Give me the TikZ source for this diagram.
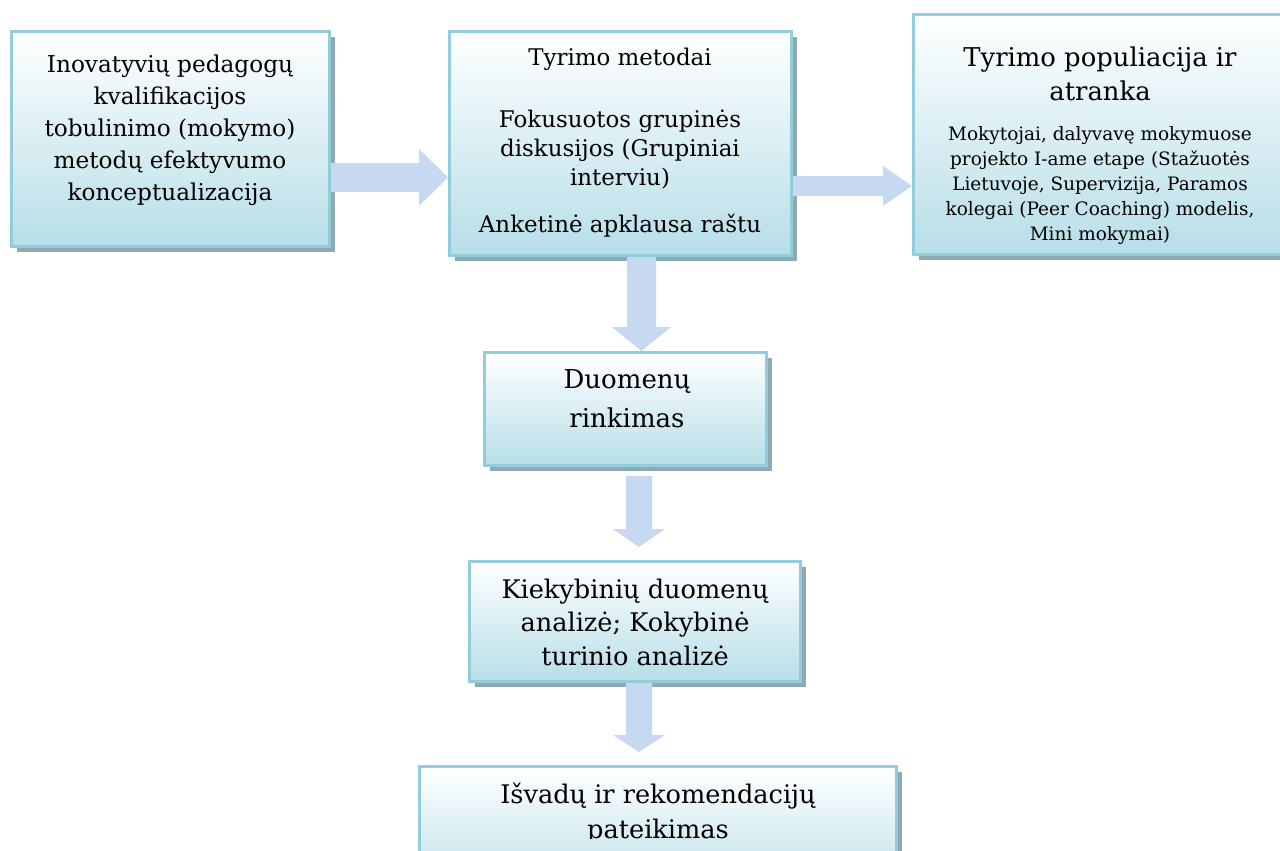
\documentclass[tikz,border=0pt]{standalone}
\usepackage{fontspec}
\setmainfont{DejaVu Serif}
\usetikzlibrary{shadows,calc}
\definecolor{bord}{HTML}{92CDDC}
\definecolor{boxbot}{HTML}{B7DEE8}
\definecolor{shad}{HTML}{8FA9B3}
\definecolor{arr}{HTML}{C6D9F1}
\tikzset{
  box/.style={draw=bord, line width=2.25pt, top color=white, bottom color=boxbot,
    inner sep=0pt,
    drop shadow={shadow xshift=3.75pt, shadow yshift=-3.75pt, fill=shad, opacity=1}},
  blk/.style={fill=arr, draw=none},
  txt/.style={anchor=base, align=center, inner sep=0pt, text=black},
}
\begin{document}
\begin{tikzpicture}[x=0.75pt,y=-0.75pt]
\useasboundingbox (0,0) rectangle (1280,850);
\clip (0,0) rectangle (1280,850);
\fill[white] (0,0) rectangle (1280,850);

% boxes
\node[box, minimum width=238.5pt, minimum height=161.25pt] (b1) at (170.5,139) {};
\node[box, minimum width=256.5pt, minimum height=168pt] (b2) at (620.5,143.5) {};
\node[box, minimum width=281.25pt, minimum height=180pt] (b3) at (1101,134.5) {};
\node[box, minimum width=211.5pt, minimum height=84.75pt] (b4) at (625.5,409) {};
\node[box, minimum width=248.25pt, minimum height=90pt] (b5) at (635,621.5) {};
\node[box, minimum width=357.75pt, minimum height=99pt] (b6) at (658,832.5) {};

% texts (anchor base = baseline of the last line)
\node[txt, font=\fontsize{17.4pt}{24pt}\selectfont] (t1) at (170,200)
  {Inovatyvių pedagogų\\kvalifikacijos\\tobulinimo (mokymo)\\metodų efektyvumo\\konceptualizacija};
\node[txt, font=\fontsize{17.2pt}{22pt}\selectfont] (t2a) at (620,65) {Tyrimo metodai};
\node[txt, font=\fontsize{17.2pt}{21.75pt}\selectfont] (t2b) at (620,185)
  {Fokusuotos grupinės\\diskusijos (Grupiniai\\interviu)};
\node[txt, font=\fontsize{17.2pt}{22pt}\selectfont] (t2c) at (620,232) {Anketinė apklausa raštu};
\node[txt, font=\fontsize{19.4pt}{25pt}\selectfont] (t3a) at (1100,100) {Tyrimo populiacija ir\\atranka};
\node[txt, font=\fontsize{13.85pt}{18.75pt}\selectfont] (t3b) at (1100,240)
  {Mokytojai, dalyvavę mokymuose\\projekto I-ame etape (Stažuotės\\Lietuvoje, Supervizija, Paramos\\kolegai (Peer Coaching) modelis,\\Mini mokymai)};
\node[txt, font=\fontsize{19.5pt}{29pt}\selectfont] (t4) at (627,427) {Duomenų\\rinkimas};
\node[txt, font=\fontsize{19.2pt}{25pt}\selectfont] (t5) at (635,665)
  {Kiekybinių duomenų\\analizė; Kokybinė\\turinio analizė};
\begin{scope}
\clip (0,0) rectangle (1280,838);
\node[txt, font=\fontsize{19.2pt}{26.25pt}\selectfont] (t6) at (658,838) {Išvadų ir rekomendacijų\\pateikimas};
\end{scope}

% block arrows
\fill[blk] (b1.east |- 0,163) -- (419,163) -- (419,149) -- (b2.west |- 0,177.5)
  -- (419,206) -- (419,192) -- (b1.east |- 0,192) -- cycle;
\fill[blk] (b2.east |- 0,176) -- (883,176) -- (883,166) -- (b3.west |- 0,186)
  -- (883,206) -- (883,196) -- (b2.east |- 0,196) -- cycle;
\fill[blk] (b2.south -| 627,0) -- (627,327) -- (612,327) -- (b4.north -| 641.5,0)
  -- (671,327) -- (656,327) -- (b2.south -| 656,0) -- cycle;
\coordinate (d2s) at (639,476);
\coordinate (d2e) at (639,547);
\fill[blk] ($(d2s)+(-13,0)$) -- (626,529) -- (613,529) -- (d2e)
  -- (665,529) -- (652,529) -- ($(d2s)+(13,0)$) -- cycle;
\fill[blk] (b5.south -| 626,0) -- (626,735) -- (613,735) -- (639,752)
  -- (665,735) -- (652,735) -- (b5.south -| 652,0) -- cycle;
\end{tikzpicture}
\end{document}
